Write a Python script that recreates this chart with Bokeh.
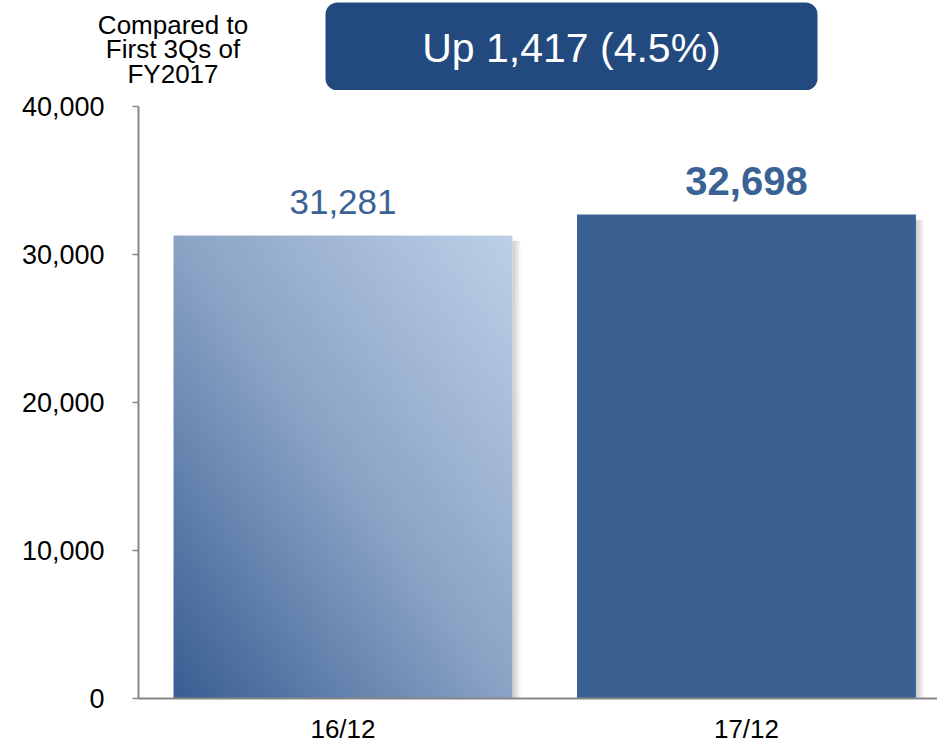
import numpy as np
from bokeh.plotting import figure
from bokeh.layouts import column
from bokeh.models import Range1d, FixedTicker, NumeralTickFormatter, BoxAnnotation, ColumnDataSource
from bokeh.core.properties import value
from bokeh.embed import file_html
from bokeh.resources import INLINE

# ---- data ----
categories = ["16/12", "17/12"]
sales = [31281, 32698]
y_ticks = [0, 10000, 20000, 30000, 40000]
header_text = "Up 1,417 (4.5%)"
note_text = "Compared to\nFirst 3Qs of\nFY2017"

FONT = "'Liberation Sans', Arial, sans-serif"
AXIS_GREY = "#868686"
SOLID = "#3a6191"
LABEL_BLUE = "#3a6295"
BOX_BLUE = "#224a7e"

W = 937
HEAD_H = 90
MAIN_H = 656

# ---------------- header strip (pixel-like coordinates) ----------------
h = figure(width=W, height=HEAD_H, output_backend="svg", toolbar_location=None,
           x_range=Range1d(0, W), y_range=Range1d(HEAD_H, 0),
           x_axis_type=None, y_axis_type=None,
           min_border=0, min_border_left=0, min_border_right=0,
           min_border_top=0, min_border_bottom=0)
h.outline_line_color = None
h.grid.visible = False
h.frame_align = False

h.add_layout(BoxAnnotation(left=325, right=817, top=2, bottom=90,
                           fill_color=BOX_BLUE, fill_alpha=1.0, line_color=None,
                           border_radius=12, level="underlay"))
h.text(x=[571], y=[47], text=[header_text], text_align="center", text_baseline="middle",
       text_font=value(FONT), text_font_size="41px", text_color="white")
h.text(x=[172.5], y=[9], text=[note_text], text_align="center", text_baseline="top",
       text_font=value(FONT), text_font_size="26px", text_color="black",
       text_line_height=0.83)

# ---------------- main chart ----------------
p = figure(width=W, height=MAIN_H, output_backend="svg", toolbar_location=None,
           x_range=Range1d(-0.0068, 1.9734), y_range=Range1d(0, 40000),
           min_border_left=138, min_border_right=0, min_border_top=16, min_border_bottom=48)
p.outline_line_color = None
p.grid.visible = False
p.frame_align = False

xs = [i + 0.5 for i in range(len(categories))]
bar_w = 0.84

# soft shadows to the right of bars
for k in range(1, 6):
    off = 0.004 * k
    p.quad(left=[x + bar_w / 2 for x in xs], right=[x + bar_w / 2 + off for x in xs],
           bottom=[0] * len(xs), top=[v - 350 for v in sales],
           fill_color="black", fill_alpha=0.04, line_color=None)

# first bar: diagonal gradient image
N, M = 120, 120
u = np.linspace(0, 1, M)[None, :]
v = np.linspace(0, 1, N)[:, None]
t = (u + v) / 2.0
stops_t = [0.0, 0.5, 1.0]
stops_c = [(0x3a, 0x5f, 0x93), (0x8b, 0xa4, 0xc6), (0xbd, 0xd0, 0xe7)]
img = np.zeros((N, M, 4), dtype=np.uint8)
for ch in range(3):
    img[:, :, ch] = np.interp(t, stops_t, [c[ch] for c in stops_c]).astype(np.uint8)
img[:, :, 3] = 255
p.image_rgba(image=[img.view(np.uint32).reshape(N, M)], x=xs[0] - bar_w / 2, y=0,
             dw=bar_w, dh=sales[0])

# second bar: solid
p.vbar(x=xs[1:], top=sales[1:], width=bar_w, bottom=0, fill_color=SOLID, line_color=None)

# value labels
src = ColumnDataSource(dict(x=xs, y=sales, txt=[f"{s:,}" for s in sales],
                            size=["35px", "40px"], style=["normal", "bold"]))
p.text(x="x", y="y", text="txt", source=src, text_align="center", text_baseline="alphabetic",
       y_offset=-34, text_color=LABEL_BLUE, text_font=value(FONT),
       text_font_size="size", text_font_style="style")

# y axis
p.yaxis.ticker = FixedTicker(ticks=y_ticks)
p.yaxis.formatter = NumeralTickFormatter(format="0,0")
p.yaxis.major_label_text_font = FONT
p.yaxis.major_label_text_font_size = "27px"
p.yaxis.major_label_text_color = "black"
p.yaxis.major_label_standoff = 28
p.yaxis.major_tick_out = 6
p.yaxis.major_tick_in = 0
p.yaxis.minor_tick_line_color = None
p.yaxis.axis_line_color = AXIS_GREY
p.yaxis.axis_line_width = 2
p.yaxis.major_tick_line_color = AXIS_GREY
p.yaxis.major_tick_line_width = 1.5

# x axis
p.xaxis.ticker = FixedTicker(ticks=xs)
p.xaxis.major_label_overrides = {x: c for x, c in zip(xs, categories)}
p.xaxis.major_tick_out = 0
p.xaxis.major_tick_in = 0
p.xaxis.major_tick_line_color = None
p.xaxis.minor_tick_line_color = None
p.xaxis.axis_line_color = AXIS_GREY
p.xaxis.axis_line_width = 2
p.xaxis.major_label_text_font = FONT
p.xaxis.major_label_text_font_size = "26px"
p.xaxis.major_label_text_color = "black"
p.xaxis.major_label_standoff = 15

layout = column(h, p, spacing=0)
open("out.html", "w").write(file_html(layout, INLINE))
